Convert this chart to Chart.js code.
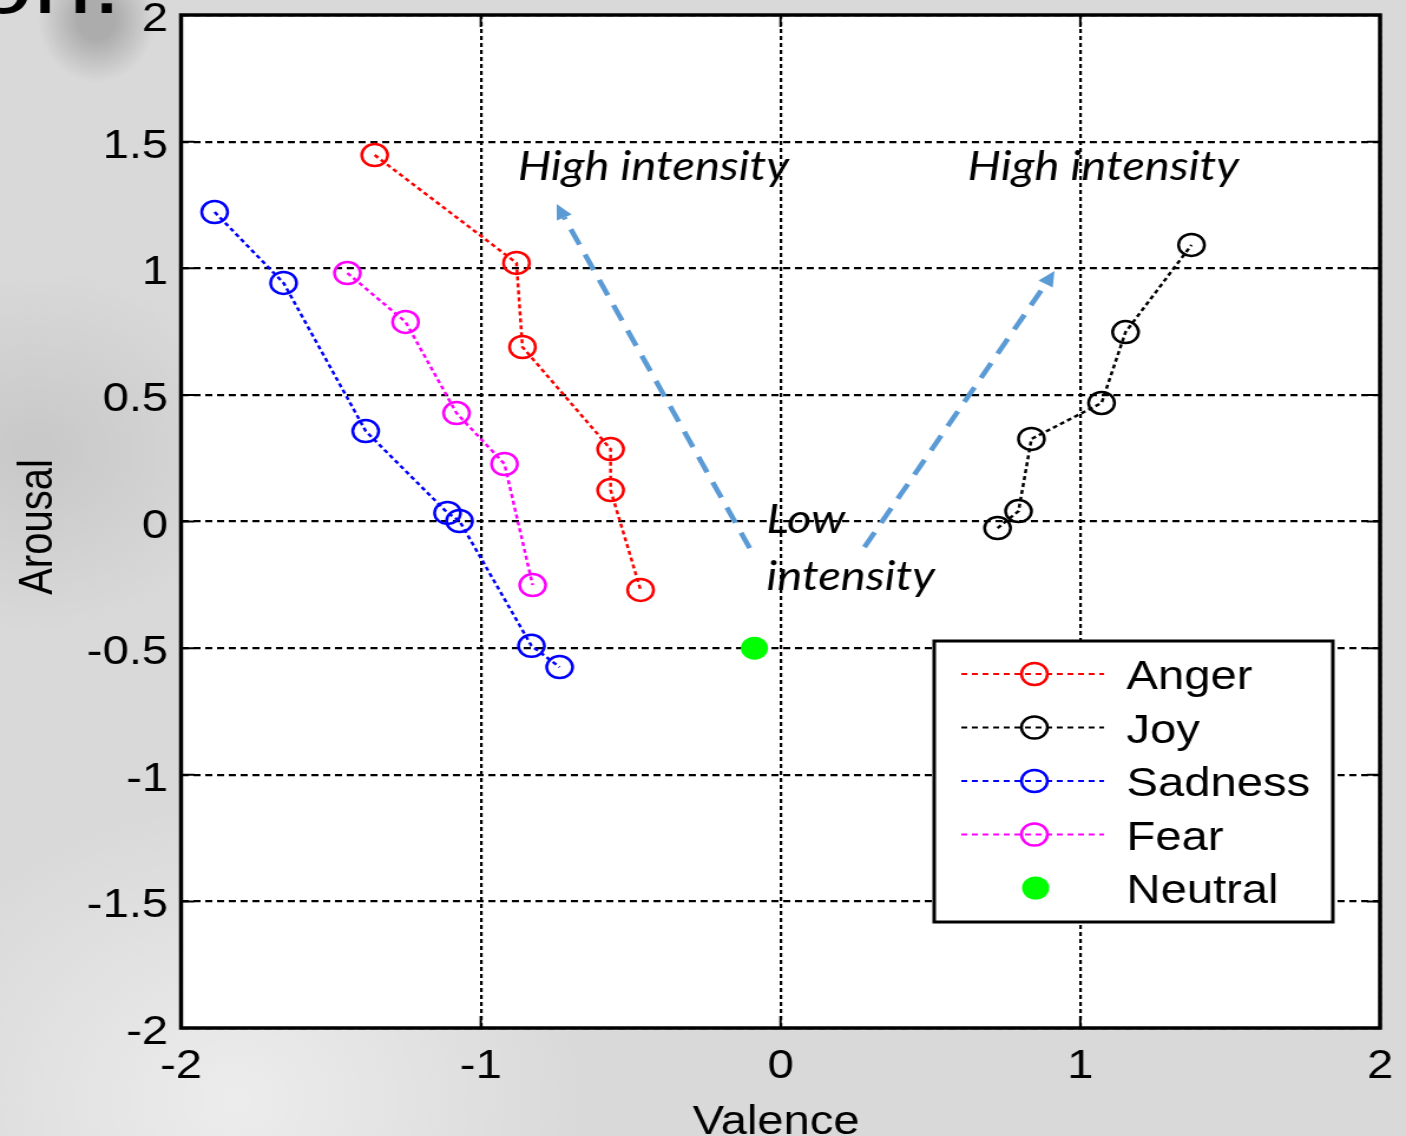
<!DOCTYPE html>
<html>
<head>
<meta charset="utf-8">
<script src="https://cdn.jsdelivr.net/npm/chart.js@4.4.0/dist/chart.umd.min.js"></script>
<style>
html, body { margin: 0; padding: 0; overflow: hidden; background: #dadada; }
/* the original figure is stretched horizontally, so the whole canvas is too */
#wrap { width: 1192px; height: 1136px; transform: scaleX(1.1795); transform-origin: 0 0; }
</style>
</head>
<body>
<div id="wrap"><canvas id="grafico"></canvas></div>
<script>
// valence (x) / arousal (y) per emotion
const angerValence = [-1.354, -0.881, -0.861, -0.567, -0.567, -0.467];
const angerArousal = [1.447, 1.021, 0.689, 0.286, 0.124, -0.270];
const joyValence = [0.724, 0.794, 0.837, 1.071, 1.151, 1.371];
const joyArousal = [-0.026, 0.041, 0.326, 0.468, 0.748, 1.092];
const sadnessValence = [-1.888, -1.658, -1.384, -1.111, -1.071, -0.831, -0.737];
const sadnessArousal = [1.222, 0.942, 0.357, 0.034, 0.002, -0.491, -0.575];
const fearValence = [-1.445, -1.251, -1.081, -0.921, -0.827];
const fearArousal = [0.981, 0.788, 0.428, 0.227, -0.251];
const neutralValence = [-0.087];
const neutralArousal = [-0.500];

const xTickLabels = ['-2', '-1', '0', '1', '2'];
const yTickLabels = ['-2', '-1.5', '-1', '-0.5', '0', '0.5', '1', '1.5', '2'];

// annotation arrows (valence/arousal units): tail -> head
const arrows = [
    [-0.103, -0.105, -0.747, 1.254],
    [0.280, -0.101, 0.914, 0.989]
];
const notes = [
    ['High intensity', -0.877, 1.348],
    ['High intensity', 0.624, 1.348],
    ['Low', -0.047, -0.045],
    ['intensity', -0.047, -0.270]
];

function pts(xs, ys) {
    return xs.map((x, i) => ({ x: x, y: ys[i] }));
}

function serie(label, cor, xs, ys) {
    return {
        label: label,
        data: pts(xs, ys),
        showLine: true,
        borderColor: cor,
        borderWidth: 2.5,
        borderDash: [4, 3],
        pointStyle: 'circle',
        pointRadius: 11,
        pointBorderWidth: 2.5,
        pointBorderColor: cor,
        pointBackgroundColor: 'rgba(0,0,0,0)'
    };
}

const fundo = {
    id: 'fundo',
    beforeDraw(chart) {
        const c = chart.ctx, a = chart.chartArea;
        c.save();
        c.fillStyle = '#d9d9d9';
        c.fillRect(0, 0, chart.width, chart.height);
        // darker patch top-left
        c.save();
        c.translate(82, 20);
        c.scale(0.8, 1);
        let g = c.createRadialGradient(0, 0, 20, 0, 0, 62);
        g.addColorStop(0, 'rgba(165,165,165,0.85)');
        g.addColorStop(1, 'rgba(165,165,165,0)');
        c.fillStyle = g;
        c.fillRect(-100, -40, 200, 120);
        c.restore();
        g = c.createRadialGradient(200, 1100, 10, 200, 1100, 300);
        g.addColorStop(0, 'rgba(238,238,238,0.9)');
        g.addColorStop(1, 'rgba(238,238,238,0)');
        c.fillStyle = g;
        c.fillRect(0, 800, 600, 336);
        g = c.createRadialGradient(30, 450, 10, 30, 450, 180);
        g.addColorStop(0, 'rgba(190,190,190,0.6)');
        g.addColorStop(1, 'rgba(190,190,190,0)');
        c.fillStyle = g;
        c.fillRect(0, 250, 160, 450);
        c.fillStyle = '#ffffff';
        c.fillRect(a.left, a.top, a.right - a.left, a.bottom - a.top);
        c.restore();
    },
    afterDraw(chart) {
        const c = chart.ctx, a = chart.chartArea;
        const xs = chart.scales.x, ys = chart.scales.y;
        c.save();

        // arrows
        c.strokeStyle = '#5b9bd5';
        c.fillStyle = '#5b9bd5';
        arrows.forEach(ar => {
            const x0 = xs.getPixelForValue(ar[0]), y0 = ys.getPixelForValue(ar[1]);
            const x1 = xs.getPixelForValue(ar[2]), y1 = ys.getPixelForValue(ar[3]);
            const ang = Math.atan2(y1 - y0, x1 - x0);
            const hl = 15, hw = 7;
            const bx = x1 - hl * Math.cos(ang), by = y1 - hl * Math.sin(ang);
            c.lineWidth = 4.5;
            c.setLineDash([17, 11]);
            c.beginPath();
            c.moveTo(x0, y0);
            c.lineTo(bx, by);
            c.stroke();
            c.setLineDash([]);
            c.beginPath();
            c.moveTo(x1, y1);
            c.lineTo(bx + hw * Math.sin(ang), by - hw * Math.cos(ang));
            c.lineTo(bx - hw * Math.sin(ang), by + hw * Math.cos(ang));
            c.closePath();
            c.fill();
        });

        // italic notes
        c.fillStyle = '#000';
        c.font = 'italic 40px Lato';
        c.textAlign = 'left';
        c.textBaseline = 'alphabetic';
        notes.forEach(n => {
            c.fillText(n[0], xs.getPixelForValue(n[1]), ys.getPixelForValue(n[2]));
        });

        // frame + inner ticks
        c.strokeStyle = '#000';
        c.lineWidth = 3.5;
        c.strokeRect(a.left, a.top, a.right - a.left, a.bottom - a.top);
        c.lineWidth = 2;
        c.beginPath();
        ys.ticks.forEach(t => {
            const y = ys.getPixelForValue(t.value);
            c.moveTo(a.left, y); c.lineTo(a.left + 11, y);
            c.moveTo(a.right, y); c.lineTo(a.right - 11, y);
        });
        xs.ticks.forEach(t => {
            const x = xs.getPixelForValue(t.value);
            c.moveTo(x, a.bottom); c.lineTo(x, a.bottom - 12);
            c.moveTo(x, a.top); c.lineTo(x, a.top + 12);
        });
        c.stroke();

        // axis titles
        c.font = '40px "Liberation Sans"';
        c.textAlign = 'center';
        c.fillText('Valence', 658, 1134);
        c.save();
        c.translate(44, 527);
        c.rotate(-Math.PI / 2);
        c.fillText('Arousal', 0, 0);
        c.restore();

        // cut-off heading from the slide
        c.font = '90px "Liberation Sans"';
        c.textAlign = 'right';
        c.fillText('on.', 103, 13);

        // legend
        const bl = 792, bt = 641, br = 1130, bb = 922;
        c.fillStyle = '#fff';
        c.fillRect(bl, bt, br - bl, bb - bt);
        c.lineWidth = 3;
        c.strokeStyle = '#000';
        c.strokeRect(bl, bt, br - bl, bb - bt);
        c.font = '40px "Liberation Sans"';
        c.textAlign = 'left';
        chart.data.datasets.forEach((ds, i) => {
            const y = 674 + i * 53.5;
            if (ds.showLine) {
                c.strokeStyle = ds.borderColor;
                c.lineWidth = 2;
                c.setLineDash([5, 4]);
                c.beginPath();
                c.moveTo(815, y);
                c.lineTo(936, y);
                c.stroke();
                c.setLineDash([]);
                c.lineWidth = 2.5;
                c.beginPath();
                c.arc(877, y, 11, 0, Math.PI * 2);
                c.stroke();
            } else {
                c.fillStyle = ds.pointBackgroundColor;
                c.beginPath();
                c.arc(878, y, 11.5, 0, Math.PI * 2);
                c.fill();
            }
            c.fillStyle = '#000';
            c.fillText(ds.label, 955, y + 15);
        });
        c.restore();
    }
};

const ctx = document.getElementById('grafico').getContext('2d');
const grafico = new Chart(ctx, {
    type: 'scatter',
    data: {
        datasets: [
            serie('Anger', '#ff0000', angerValence, angerArousal),
            serie('Joy', '#000000', joyValence, joyArousal),
            serie('Sadness', '#0000ff', sadnessValence, sadnessArousal),
            serie('Fear', '#ff00ff', fearValence, fearArousal),
            {
                label: 'Neutral',
                data: pts(neutralValence, neutralArousal),
                showLine: false,
                pointStyle: 'circle',
                pointRadius: 11.5,
                pointBorderWidth: 0,
                pointBackgroundColor: '#00ff00',
                pointBorderColor: '#00ff00'
            }
        ]
    },
    options: {
        responsive: true,
        maintainAspectRatio: false,
        devicePixelRatio: 1,
        animation: false,
        layout: { padding: { left: 0, right: 22, top: 15, bottom: 0 } },
        plugins: {
            legend: { display: false },
            tooltip: { enabled: false }
        },
        scales: {
            x: {
                type: 'linear',
                min: -2, max: 2,
                afterFit: s => { s.height = 108; s.paddingLeft = 0; s.paddingRight = 0; },
                ticks: {
                    stepSize: 1,
                    padding: 15,
                    color: '#000',
                    font: { family: 'Liberation Sans', size: 40 },
                    maxRotation: 0,
                    callback: (v, i) => xTickLabels[i]
                },
                grid: { color: '#000', lineWidth: 2.2, drawTicks: false },
                border: { display: false, dash: [4, 3] }
            },
            y: {
                type: 'linear',
                min: -2, max: 2,
                afterFit: s => { s.width = 153.5; s.paddingTop = 0; s.paddingBottom = 0; },
                ticks: {
                    stepSize: 0.5,
                    padding: 11,
                    labelOffset: 5,
                    color: '#000',
                    font: { family: 'Liberation Sans', size: 40 },
                    callback: (v, i) => yTickLabels[i]
                },
                grid: { color: '#000', lineWidth: 2.2, drawTicks: false },
                border: { display: false, dash: [6, 4] }
            }
        }
    },
    plugins: [fundo]
});
</script>
</body>
</html>
